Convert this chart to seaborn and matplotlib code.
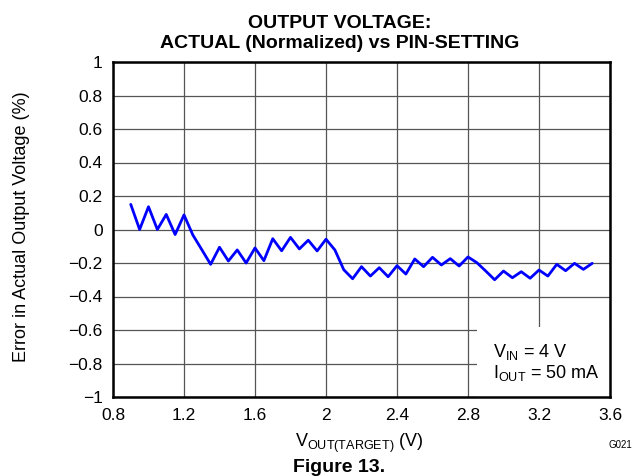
import numpy as np
import pandas as pd
import matplotlib
matplotlib.use("Agg")
import matplotlib.pyplot as plt
import seaborn as sns

# Data
vout_target = [0.90, 0.95, 1.00, 1.05, 1.10, 1.15, 1.20, 1.25, 1.30, 1.35,
               1.40, 1.45, 1.50, 1.55, 1.60, 1.65, 1.70, 1.75, 1.80, 1.85,
               1.90, 1.95, 2.00, 2.05, 2.10, 2.15, 2.20, 2.25, 2.30, 2.35,
               2.40, 2.45, 2.50, 2.55, 2.60, 2.65, 2.70, 2.75, 2.80, 2.85,
               2.90, 2.95, 3.00, 3.05, 3.10, 3.15, 3.20, 3.25, 3.30, 3.35,
               3.40, 3.45, 3.50]
error_pct = [0.15, 0.00, 0.136, 0.00, 0.09, -0.03, 0.087, -0.033, -0.12, -0.208,
             -0.106, -0.188, -0.122, -0.20, -0.11, -0.186, -0.055, -0.127, -0.047, -0.116,
             -0.064, -0.128, -0.058, -0.122, -0.240, -0.294, -0.222, -0.278, -0.228, -0.282,
             -0.216, -0.266, -0.176, -0.222, -0.166, -0.212, -0.174, -0.218, -0.164, -0.198,
             -0.248, -0.300, -0.248, -0.288, -0.252, -0.291, -0.242, -0.278, -0.208, -0.246,
             -0.202, -0.238, -0.202]

x_ticks = [0.8, 1.2, 1.6, 2.0, 2.4, 2.8, 3.2, 3.6]
x_tick_labels = ["0.8", "1.2", "1.6", "2", "2.4", "2.8", "3.2", "3.6"]
y_ticks = [-1, -0.8, -0.6, -0.4, -0.2, 0, 0.2, 0.4, 0.6, 0.8, 1]
y_tick_labels = ["\u22121", "\u22120.8", "\u22120.6", "\u22120.4", "\u22120.2", "0",
                 "0.2", "0.4", "0.6", "0.8", "1"]

df = pd.DataFrame({"vout": vout_target, "err": error_pct})

sns.set_theme(style="white")
plt.rcParams['font.family'] = ['Liberation Sans', 'DejaVu Sans']
plt.rcParams['text.color'] = 'black'
plt.rcParams['axes.labelcolor'] = 'black'
plt.rcParams['mathtext.fontset'] = 'custom'
plt.rcParams['mathtext.rm'] = 'Liberation Sans'

W, H = 637, 476
fig = plt.figure(figsize=(W / 100, H / 100), dpi=100)
ax = fig.add_axes([113 / W, 1 - 397 / H, (610 - 113) / W, (397 - 62) / H])

sns.lineplot(data=df, x="vout", y="err", ax=ax, color="#0000FF", linewidth=2.0, zorder=3)

ax.set_xlim(0.8, 3.6)
ax.set_ylim(-1, 1)
ax.set_xticks(x_ticks)
ax.set_xticklabels(x_tick_labels)
ax.set_yticks(y_ticks)
ax.set_yticklabels(y_tick_labels)
ax.tick_params(axis="both", length=0, labelsize=12.5, colors="black")
ax.tick_params(axis="x", pad=8)
ax.tick_params(axis="y", pad=7.5)
ax.grid(True, color="#555555", linewidth=0.9)
ax.set_axisbelow(True)
for s in ax.spines.values():
    s.set_color("black")
    s.set_linewidth(1.8)
ax.set_xlabel("")
ax.set_ylabel("")

# White annotation box (inside axes)
ax.add_patch(plt.Rectangle((2.85, -1), 0.8, 0.418, transform=ax.transData,
                           facecolor="white", edgecolor="none", zorder=2, clip_on=True))
ax.text(2.94, -0.761, r"V$_{\mathregular{IN}}$ = 4 V", fontsize=13, zorder=4,
        va="baseline", ha="left", color="black")
ax.text(2.94, -0.887, r"I$_{\mathregular{OUT}}$ = 50 mA", fontsize=13, zorder=4,
        va="baseline", ha="left", color="black")

# Title
fig.text(340 / W, 1 - 28 / H, "OUTPUT VOLTAGE:", fontsize=14, fontweight="bold",
         ha="center", va="baseline")
fig.text(340 / W, 1 - 48 / H, "ACTUAL (Normalized) vs PIN-SETTING", fontsize=14,
         fontweight="bold", ha="center", va="baseline")

# Axis labels
fig.text(22 / W, 1 - 227 / H, "Error in Actual Output Voltage (%)", fontsize=13,
         rotation=90, ha="center", va="center")
fig.text(295 / W, 1 - 447 / H, r"V$_{\mathregular{OUT(TARGET)}}$ (V)", fontsize=13,
         ha="left", va="baseline")

fig.text(620 / W, 1 - 445 / H, "G021", fontsize=7, ha="center", va="center")
fig.text(293 / W, 1 - 472 / H, "Figure 13.", fontsize=14, fontweight="bold",
         ha="left", va="baseline")

fig.savefig("out.png", dpi=100)
